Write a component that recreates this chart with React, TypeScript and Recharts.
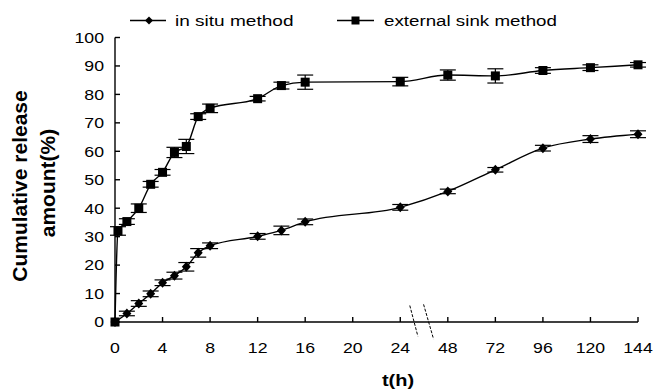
import React from 'react';
import { LineChart, Line, XAxis, YAxis, ErrorBar, Legend, ReferenceLine, Label } from 'recharts';

const FONT = '"Liberation Sans", Arial, sans-serif';

// x-axis tick labels (broken axis: 0-24 h every 4 h, then 24-144 h every 24 h)
const tickLabels = ['0', '4', '8', '12', '16', '20', '24', '48', '72', '96', '120', '144'];
const xTickPositions = [0, 1, 2, 3, 4, 5, 6, 7, 8, 9, 10, 11];
const yTicks = [0, 10, 20, 30, 40, 50, 60, 70, 80, 90, 100];

// external sink method
const externalHours = [0, 0.25, 1, 2, 3, 4, 5, 6, 7, 8, 12, 14, 16, 24, 48, 72, 96, 120, 144];
const externalValues = [0, 32, 35.3, 40, 48.4, 52.6, 59.6, 61.7, 72.2, 75.1, 78.5, 83.1, 84.3, 84.5, 86.8, 86.5, 88.4, 89.4, 90.4];
const externalErrors = [0, 1.5, 1, 1.5, 1, 1, 1.8, 2.5, 1, 1.5, 0.8, 1.2, 2.5, 1.5, 1.8, 2.5, 1, 1, 0.8];

// in situ method
const inSituHours = [0, 1, 2, 3, 4, 5, 6, 7, 8, 12, 14, 16, 24, 48, 72, 96, 120, 144];
const inSituValues = [0, 3.0, 6.5, 9.9, 13.8, 16.3, 19.4, 24.3, 26.8, 30.1, 32.2, 35.2, 40.3, 45.9, 53.5, 61.1, 64.3, 66.0];
const inSituErrors = [0, 0.8, 1, 1, 1, 1.2, 1.5, 1.5, 1, 1, 1.5, 1, 1, 0.8, 0.8, 1, 1.2, 1.2];

// map hours onto the broken axis
const hourToPos = (h: number) => (h <= 24 ? h / 4 : 6 + (h - 24) / 24);

const externalData = externalHours.map((h, i) => ({ x: hourToPos(h), y: externalValues[i], err: externalErrors[i] }));
const inSituData = inSituHours.map((h, i) => ({ x: hourToPos(h), y: inSituValues[i], err: inSituErrors[i] }));

const SquareDot = (props: any) => {
  const { cx, cy, index } = props;
  if (cx == null || cy == null) return <g key={`s${index}`} />;
  return <rect key={`s${index}`} x={cx - 4.5} y={cy - 4.5} width={9} height={9} fill="#000" />;
};

const DiamondDot = (props: any) => {
  const { cx, cy, index } = props;
  if (cx == null || cy == null) return <g key={`d${index}`} />;
  return (
    <polygon
      key={`d${index}`}
      points={`${cx},${cy - 5} ${cx + 4.5},${cy} ${cx},${cy + 5} ${cx - 4.5},${cy}`}
      fill="#000"
    />
  );
};

const XTick = (props: any) => {
  const { x, y, payload } = props;
  return (
    <g transform={`translate(${x},${y})`}>
      <text transform="scale(1.18,1)" textAnchor="middle" dy={10.7} fontSize={15} fontFamily={FONT} fill="#000">
        {tickLabels[payload.value]}
      </text>
    </g>
  );
};

const YTick = (props: any) => {
  const { x, y, payload } = props;
  return (
    <g transform={`translate(${x},${y})`}>
      <text transform="scale(1.18,1)" textAnchor="end" dy={5.3} fontSize={15} fontFamily={FONT} fill="#000">
        {payload.value}
      </text>
    </g>
  );
};

const LegendContent = () => (
  <svg width={653} height={30} style={{ display: 'block' }}>
    <line x1={130} x2={166} y1={20.5} y2={20.5} stroke="#000" strokeWidth={1.5} />
    <polygon points="149,16.5 153,20.5 149,24.5 145,20.5" fill="#000" />
    <text transform="translate(175,25.5) scale(1.27,1)" fontSize={15} fontFamily={FONT} fill="#000">
      in situ method
    </text>
    <line x1={337} x2={374} y1={20.5} y2={20.5} stroke="#000" strokeWidth={1.5} />
    <rect x={351.5} y={16.5} width={8} height={8} fill="#000" />
    <text transform="translate(384,25.5) scale(1.25,1)" fontSize={15} fontFamily={FONT} fill="#000">
      external sink method
    </text>
  </svg>
);

const YTitle = () => (
  <g>
    <text transform="translate(27,186) rotate(-90)" textAnchor="middle" fontSize={21} fontWeight="bold" fontFamily={FONT} fill="#000">
      Cumulative release
    </text>
    <text transform="translate(55,183) rotate(-90)" textAnchor="middle" fontSize={21} fontWeight="bold" fontFamily={FONT} fill="#000">
      amount(%)
    </text>
  </g>
);

const XTitle = () => (
  <text transform="translate(398,386) scale(1.25,1)" textAnchor="middle" fontSize={16} fontWeight="bold" fontFamily={FONT} fill="#000">
    t(h)
  </text>
);

export default function App() {
  return (
    <div style={{ position: 'absolute', left: 0, top: 0, background: '#fff' }}>
      <LineChart width={653} height={391} margin={{ top: 7.5, right: 15, bottom: 0, left: 0 }}>
        <Legend
          verticalAlign="top"
          align="left"
          height={30}
          width={653}
          wrapperStyle={{ left: 0, top: 0 }}
          content={<LegendContent />}
        />
        <XAxis
          type="number"
          dataKey="x"
          domain={[0, 11]}
          ticks={xTickPositions}
          interval={0}
          height={69}
          tickSize={-5}
          tickMargin={25}
          tick={<XTick />}
          axisLine={{ stroke: '#000', strokeWidth: 1.4 }}
          tickLine={{ stroke: '#000', strokeWidth: 1.4 }}
        >
          <Label content={<XTitle />} />
        </XAxis>
        <YAxis
          type="number"
          domain={[0, 100]}
          ticks={yTicks}
          interval={0}
          width={115}
          tickSize={-5}
          tickMargin={16}
          tick={<YTick />}
          axisLine={{ stroke: '#000', strokeWidth: 1.4 }}
          tickLine={{ stroke: '#000', strokeWidth: 1.4 }}
        >
          <Label content={<YTitle />} />
        </YAxis>
        <ReferenceLine
          segment={[{ x: 6.2, y: 5.8 }, { x: 6.37, y: -5 }]}
          ifOverflow="visible"
          stroke="#000"
          strokeWidth={1}
          strokeDasharray="3 1.5"
        />
        <ReferenceLine
          segment={[{ x: 6.49, y: 6.2 }, { x: 6.7, y: -6 }]}
          ifOverflow="visible"
          stroke="#000"
          strokeWidth={1}
          strokeDasharray="3 1.5"
        />
        <Line
          data={inSituData}
          dataKey="y"
          type="monotone"
          stroke="#000"
          strokeWidth={1.4}
          dot={DiamondDot}
          activeDot={false}
          isAnimationActive={false}
        >
          <ErrorBar dataKey="err" width={8} stroke="#000" strokeWidth={1.2} direction="y" isAnimationActive={false} />
        </Line>
        <Line
          data={externalData}
          dataKey="y"
          type="monotone"
          stroke="#000"
          strokeWidth={1.4}
          dot={SquareDot}
          activeDot={false}
          isAnimationActive={false}
        >
          <ErrorBar dataKey="err" width={8} stroke="#000" strokeWidth={1.2} direction="y" isAnimationActive={false} />
        </Line>
      </LineChart>
    </div>
  );
}
